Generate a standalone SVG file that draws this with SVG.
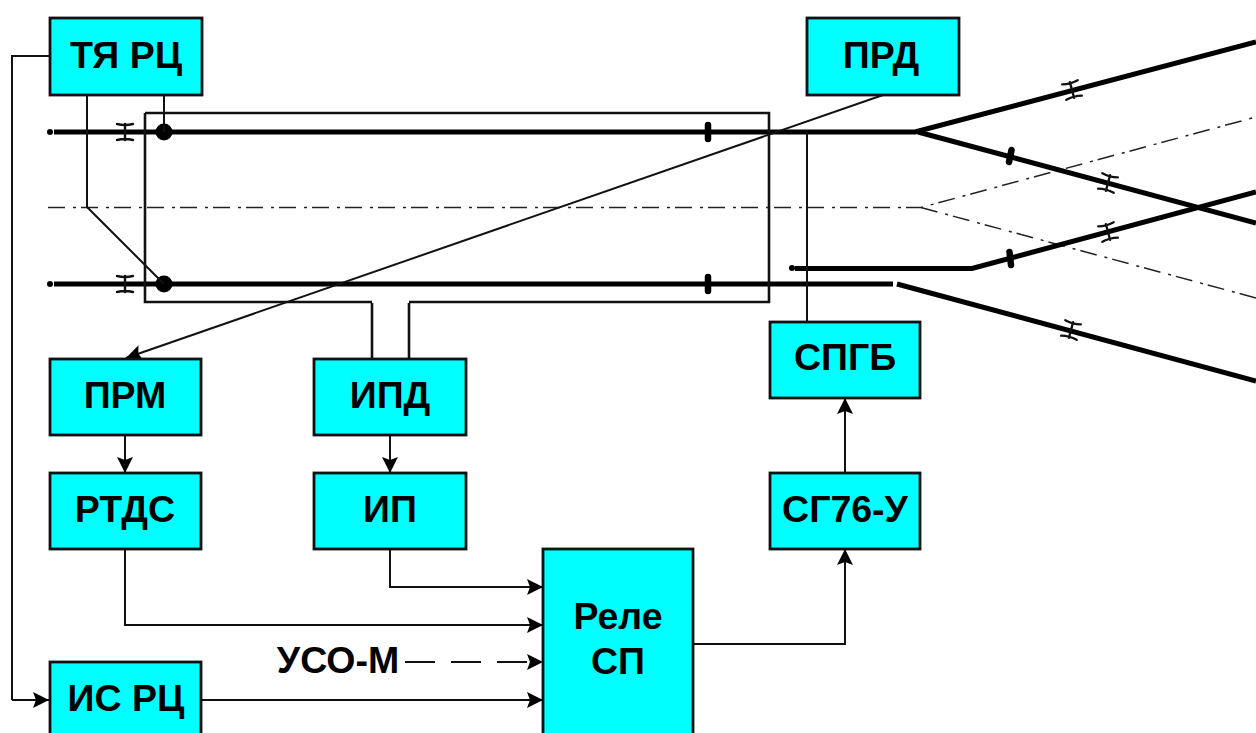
<svg xmlns="http://www.w3.org/2000/svg" width="1256" height="733" viewBox="0 0 1256 733">
<style>
.n{fill:#00ffff;stroke:#111;stroke-width:2.8}
text{font-family:"Liberation Sans",Arial,sans-serif;font-weight:bold;font-size:37.500px;fill:#000;text-anchor:middle}
.t{fill:none;stroke:#000;stroke-width:5}
.w{fill:none;stroke:#111;stroke-width:2}
.f{fill:none;stroke:#111;stroke-width:2.600}
.d{fill:none;stroke:#222;stroke-width:1.500;stroke-dasharray:17 8 3 5}
.a{fill:none;stroke:#111;stroke-width:2;marker-end:url(#ah)}
.r{fill:none;stroke:#111;stroke-width:2.400;stroke-linecap:round}
.b{fill:none;stroke:#000;stroke-width:6.500;stroke-linecap:round}
</style>
<defs>
<marker id="ah" markerUnits="userSpaceOnUse" markerWidth="17" markerHeight="17" refX="16" refY="8" orient="auto"><path d="M0 0L16 8L0 16L3 8Z" fill="#000"/></marker>
<g id="ins"><path class="r" d="M0-8V8M-8-8Q0-6 8-8M-8 8Q0 6 8 8"/></g>
</defs>
<g id="connectors">
<path class="d" d="M48 207.500H921L1256 117"/>
<path class="d" d="M921 207.500L1256 298"/>
<path class="t" d="M54 132H915L1256 42"/>
<path class="t" d="M54 284H893"/>
<path class="t" d="M918 132L1256 223"/>
<path class="t" d="M795 268.500H972L1256 192"/>
<path class="t" d="M897 284L1256 381"/>
<circle cx="50" cy="132" r="3"/><circle cx="50" cy="284" r="3"/><circle cx="792" cy="268" r="3"/>
<circle cx="164" cy="132" r="8.500"/><circle cx="164" cy="284" r="8.500"/>
<use href="#ins" x="125" y="132"/><use href="#ins" x="125" y="284"/>
<use href="#ins" transform="translate(1072 90) rotate(-15)"/>
<use href="#ins" transform="translate(1108 183) rotate(15)"/>
<use href="#ins" transform="translate(1108 232) rotate(-15)"/>
<use href="#ins" transform="translate(1071 330) rotate(15)"/>
<path class="b" d="M708 125V139M708 277V291M1011.500 150L1009 162M1009.500 252L1011 265"/>
<path class="f" d="M372 303V359M409 303V359"/>
<path class="f" d="M145 113H769V302H409M372 302H145V113"/>
<path class="w" d="M807 132V322"/>
<path class="w" d="M164 95V132M87 95V207L164 284"/>
<path class="w" d="M49 56H12V700"/>
<path class="a" d="M12 700H49"/>
<path class="a" d="M883 95L126 358"/>
<path class="a" d="M125 435V473"/>
<path class="a" d="M390 435V473"/>
<path class="a" d="M845 473V398"/>
<path class="a" d="M694 644H845V549"/>
<path class="a" d="M390 549V587H543"/>
<path class="a" d="M125 549V625H543"/>
<path class="a" d="M405 662H543" stroke-dasharray="30 16"/>
<path class="a" d="M202 700H543"/>
</g>
<g id="n-tya"><rect class="n" x="50" y="18" width="152" height="77"/><text x="126" y="68">ТЯ РЦ</text></g>
<g id="n-prd"><rect class="n" x="807" y="18" width="152" height="77"/><text x="881" y="68">ПРД</text></g>
<g id="n-prm"><rect class="n" x="50" y="359" width="151" height="76"/><text x="125" y="408">ПРМ</text></g>
<g id="n-ipd"><rect class="n" x="314" y="359" width="152" height="76"/><text x="390" y="408">ИПД</text></g>
<g id="n-spgb"><rect class="n" x="770" y="322" width="150" height="76"/><text x="845" y="370">СПГБ</text></g>
<g id="n-rtds"><rect class="n" x="50" y="473" width="151" height="76"/><text x="125" y="522">РТДС</text></g>
<g id="n-ip"><rect class="n" x="314" y="473" width="152" height="76"/><text x="390" y="522">ИП</text></g>
<g id="n-sg"><rect class="n" x="770" y="473" width="150" height="76"/><text x="845" y="522">СГ76-У</text></g>
<g id="n-rele"><rect class="n" x="543" y="549" width="150" height="200"/><text x="618" y="629">Реле</text><text x="618" y="674">СП</text></g>
<g id="n-is"><rect class="n" x="50" y="662" width="151" height="90"/><text x="126" y="711">ИС РЦ</text></g>
<text id="uso" x="338" y="673">УСО-М</text>
</svg>
